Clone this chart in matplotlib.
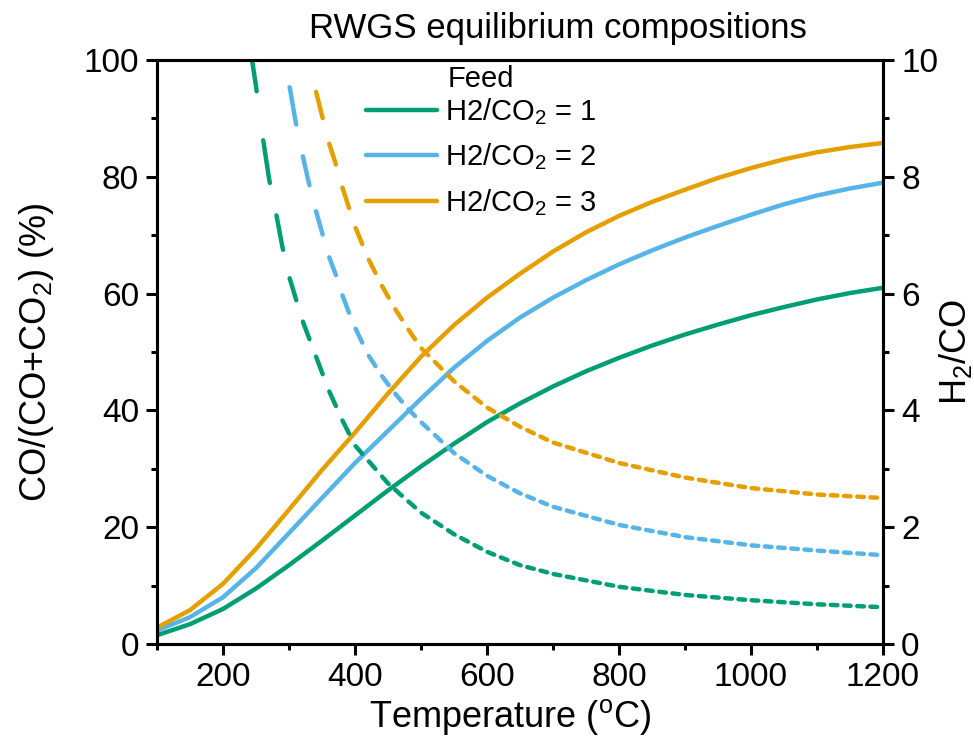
import numpy as np
import matplotlib
matplotlib.use('Agg')
import matplotlib.pyplot as plt
from matplotlib.collections import LineCollection
from matplotlib.lines import Line2D
from matplotlib.ticker import MultipleLocator

plt.rcParams['font.family'] = ['Liberation Sans', 'DejaVu Sans']
plt.rcParams['mathtext.fontset'] = 'custom'
plt.rcParams['mathtext.rm'] = 'Liberation Sans'
plt.rcParams['mathtext.it'] = 'Liberation Sans:italic'
plt.rcParams['mathtext.default'] = 'regular'

# CO/(CO+CO2) in %, left axis
temp_conv = np.arange(100, 1201, 50)
conv_1 = [1.5, 3.4, 6.0, 9.5, 13.5, 17.7, 22.0, 26.3, 30.4, 34.3, 38.0, 41.2,
          44.1, 46.7, 49.0, 51.1, 53.0, 54.7, 56.3, 57.7, 59.0, 60.1, 61.0]
conv_2 = [2.3, 4.6, 8.0, 13.0, 19.0, 25.0, 31.0, 36.5, 42.0, 47.3, 51.9, 55.9,
          59.3, 62.3, 65.0, 67.4, 69.6, 71.6, 73.5, 75.3, 76.8, 78.0, 79.0]
conv_3 = [2.8, 5.8, 10.3, 16.3, 23.0, 29.8, 36.2, 42.9, 49.2, 54.6, 59.3, 63.4,
          67.2, 70.5, 73.3, 75.7, 77.8, 79.8, 81.5, 83.0, 84.2, 85.1, 85.8]

# H2/CO ratio, right axis
temp_ratio_1 = [240, 250, 260, 270, 280, 290, 300, 320, 340, 360, 380, 400, 450,
                500, 550, 600, 650, 700, 800, 900, 1000, 1100, 1200]
ratio_1 = [10.3, 9.55, 8.7, 7.95, 7.4, 6.8, 6.3, 5.55, 4.95, 4.35, 3.85, 3.4, 2.75,
           2.25, 1.88, 1.58, 1.35, 1.2, 0.98, 0.84, 0.75, 0.68, 0.63]
temp_ratio_2 = [300, 310, 320, 330, 340, 350, 360, 370, 380, 390, 400, 420, 440,
                460, 480, 500, 550, 600, 650, 700, 800, 900, 1000, 1100, 1200]
ratio_2 = [9.6, 8.95, 8.4, 7.9, 7.45, 7.05, 6.65, 6.35, 6.0, 5.7, 5.42, 4.95, 4.6,
           4.3, 4.03, 3.8, 3.27, 2.88, 2.58, 2.35, 2.04, 1.83, 1.69, 1.6, 1.52]
temp_ratio_3 = [340, 350, 360, 370, 380, 390, 400, 420, 440, 460, 480, 500, 550,
                600, 650, 700, 800, 900, 1000, 1100, 1200]
ratio_3 = [9.5, 9.05, 8.6, 8.25, 7.85, 7.5, 7.15, 6.6, 6.15, 5.75, 5.4, 5.07, 4.5,
           4.05, 3.72, 3.45, 3.1, 2.85, 2.67, 2.56, 2.5]

feeds = ['H2/CO$_2$ = 1', 'H2/CO$_2$ = 2', 'H2/CO$_2$ = 3']
colors = ['#009E73', '#56B4E9', '#E69F00']
LW = 3.2


def x_dashed(ax, t, y, color, period=20.0, on=10.0, phase=1.0):
    """Dashes spaced evenly along x rather than along the path."""
    t = np.asarray(t, dtype=float)
    y = np.asarray(y, dtype=float)
    segs = []
    start = t[0] + ((phase - t[0]) % period)
    if start - period + on > t[0]:
        start -= period
    while start < t[-1]:
        a = max(start, t[0])
        b = min(start + on, t[-1])
        inner = t[(t > a) & (t < b)]
        ts = np.concatenate([[a], inner, [b]])
        segs.append(np.column_stack([ts, np.interp(ts, t, y)]))
        start += period
    lc = LineCollection(segs, colors=color, linewidths=LW, capstyle='round',
                        joinstyle='round')
    ax.add_collection(lc)


fig = plt.figure(figsize=(9.74, 7.44), dpi=100)
ax1 = fig.add_axes([157 / 974, 100 / 744, 726 / 974, 584 / 744])
ax2 = ax1.twinx()

for conv, c in zip([conv_1, conv_2, conv_3], colors):
    ax1.plot(temp_conv, conv, color=c, lw=LW, solid_capstyle='round',
             solid_joinstyle='round')

for t, r, c in zip([temp_ratio_1, temp_ratio_2, temp_ratio_3],
                   [ratio_1, ratio_2, ratio_3], colors):
    x_dashed(ax2, t, r, c)

ax1.set_xlim(100, 1200)
ax1.set_ylim(0, 100)
ax2.set_ylim(0, 10)

ax1.xaxis.set_major_locator(MultipleLocator(200))
ax1.xaxis.set_minor_locator(MultipleLocator(100))
ax1.yaxis.set_major_locator(MultipleLocator(20))
ax1.yaxis.set_minor_locator(MultipleLocator(10))
ax2.yaxis.set_major_locator(MultipleLocator(2))
ax2.yaxis.set_minor_locator(MultipleLocator(1))

for ax in (ax1, ax2):
    for s in ax.spines.values():
        s.set_linewidth(2.2)
    ax.tick_params(which='major', length=8, width=2.2, labelsize=24, pad=5)
    ax.tick_params(which='minor', length=4.5, width=2.2)
ax1.tick_params(axis='x', which='both', top=False)
ax1.set_xticks([t for t in range(200, 1201, 200)])

ax1.set_xlabel('Temperature ($^{o}$C)', fontsize=26)
ax1.set_ylabel('CO/(CO+CO$_2$) (%)', fontsize=26)
ax2.set_ylabel('H$_2$/CO', fontsize=26)
ax1.yaxis.set_label_coords((56 - 157) / 726, 0.5)
ax2.yaxis.set_label_coords((937 - 157) / 726, 0.5)
ax1.xaxis.set_label_coords((510 - 157) / 726, -(697 - 644) / 584)

fig.text(558 / 974, 1 - 38 / 744, 'RWGS equilibrium compositions',
         fontsize=25, ha='center', va='baseline')

handles = [Line2D([], [], color=c, lw=LW, solid_capstyle='round') for c in colors]
ax2.legend(handles, feeds, loc='upper left', frameon=False, fontsize=21,
           bbox_to_anchor=(366 / 974, 1 - 96 / 744), bbox_transform=fig.transFigure,
           borderpad=0, borderaxespad=0, handlelength=2.45, handletextpad=0.25,
           labelspacing=0.5)
fig.text(448 / 974, 1 - 87 / 744, 'Feed', fontsize=21, va='baseline')

fig.savefig('out.png', dpi=100)
